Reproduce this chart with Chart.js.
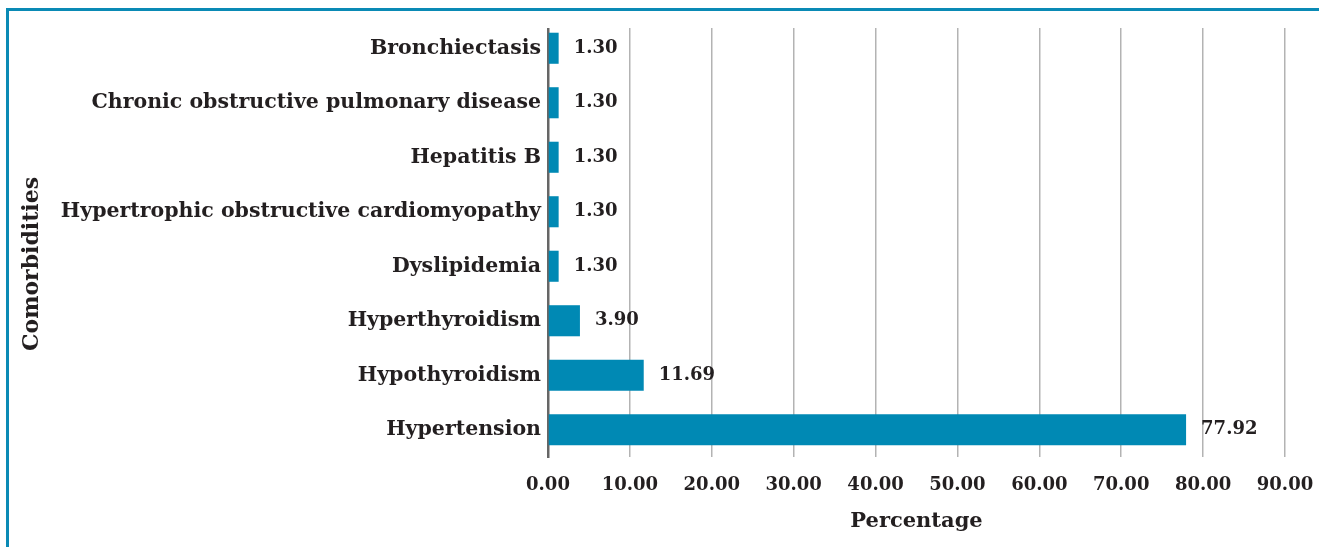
<!DOCTYPE html>
<html>
<head>
<meta charset="utf-8">
<script src="https://cdn.jsdelivr.net/npm/chart.js@4"></script>
<style>
  html, body { margin: 0; padding: 0; background: #ffffff; }
  #frame { position: absolute; left: 6px; top: 8px; width: 1330px; height: 560px; border-top: 3px solid #0a8ab5; border-left: 3px solid #0a8ab5; box-sizing: border-box; }
  #wrap { position: absolute; left: 0; top: 0; width: 1319px; height: 547px; }
</style>
</head>
<body>
<div id="frame"></div>
<div id="wrap"><canvas id="c" width="1319" height="547"></canvas></div>
<script>
const categories = [
  "Bronchiectasis",
  "Chronic obstructive pulmonary disease",
  "Hepatitis B",
  "Hypertrophic obstructive cardiomyopathy",
  "Dyslipidemia",
  "Hyperthyroidism",
  "Hypothyroidism",
  "Hypertension"
];
const percentages = [1.30, 1.30, 1.30, 1.30, 1.30, 3.90, 11.69, 77.92];
const xTickMin = 0;
const xTickMax = 90;
const xTickStep = 10;
const xTitle = "Percentage";
const yTitle = "Comorbidities";

const FONT = "'DejaVu Serif', serif";
const TEXT = "#231f20";

const clipGrid = {
  id: 'clipGrid',
  beforeDraw(chart) {
    const ctx = chart.ctx;
    ctx.save();
    ctx.beginPath();
    ctx.rect(0, 28, chart.width, chart.height);
    ctx.clip();
  },
  beforeDatasetsDraw(chart) {
    chart.ctx.restore();
  }
};

const valueLabels = {
  id: 'valueLabels',
  afterDatasetsDraw(chart) {
    const ctx = chart.ctx;
    const meta = chart.getDatasetMeta(0);
    ctx.save();
    ctx.font = "bold 18px " + FONT;
    ctx.fillStyle = TEXT;
    ctx.textAlign = 'left';
    ctx.textBaseline = 'middle';
    meta.data.forEach((bar, i) => {
      ctx.fillText(percentages[i].toFixed(2), bar.x + 15, bar.y);
    });
    ctx.restore();
  }
};

const yTitlePlugin = {
  id: 'yTitlePlugin',
  afterDraw(chart) {
    const ctx = chart.ctx;
    ctx.save();
    ctx.translate(32, 264);
    ctx.rotate(-Math.PI / 2);
    ctx.font = "bold 22px " + FONT;
    ctx.fillStyle = TEXT;
    ctx.textAlign = 'center';
    ctx.textBaseline = 'middle';
    ctx.fillText(yTitle, 0, 0);
    ctx.restore();
  }
};

new Chart(document.getElementById('c'), {
  type: 'bar',
  data: {
    labels: categories,
    datasets: [{
      data: percentages,
      backgroundColor: '#0089b4',
      borderWidth: 0,
      barPercentage: 0.57,
      categoryPercentage: 1.0
    }]
  },
  options: {
    indexAxis: 'y',
    responsive: false,
    animation: false,
    devicePixelRatio: 1,
    layout: { padding: { top: 21, right: 34, left: 0, bottom: 0 } },
    plugins: { legend: { display: false }, tooltip: { enabled: false } },
    scales: {
      x: {
        min: xTickMin,
        max: xTickMax,
        afterFit(scale) { scale.height = 90; scale.paddingLeft = 0; scale.paddingRight = 0; },
        ticks: {
          stepSize: xTickStep,
          padding: 18,
          color: TEXT,
          font: { family: FONT, weight: 'bold', size: 18 },
          callback: (v) => Number(v).toFixed(2)
        },
        grid: { color: '#b3b3b3', lineWidth: 1.5, drawTicks: false },
        border: { display: false },
        title: {
          display: true,
          text: xTitle,
          color: TEXT,
          font: { family: FONT, weight: 'bold', size: 21 },
          padding: { top: 0, bottom: 13 }
        }
      },
      y: {
        z: 1,
        afterFit(scale) { scale.width = 548; },
        ticks: {
          padding: 7,
          color: TEXT,
          font: { family: FONT, weight: 'bold', size: 20.5 }
        },
        grid: { display: false, drawTicks: false },
        border: { display: true, color: '#666666', width: 2.5 }
      }
    }
  },
  plugins: [clipGrid, valueLabels, yTitlePlugin]
});
</script>
</body>
</html>
